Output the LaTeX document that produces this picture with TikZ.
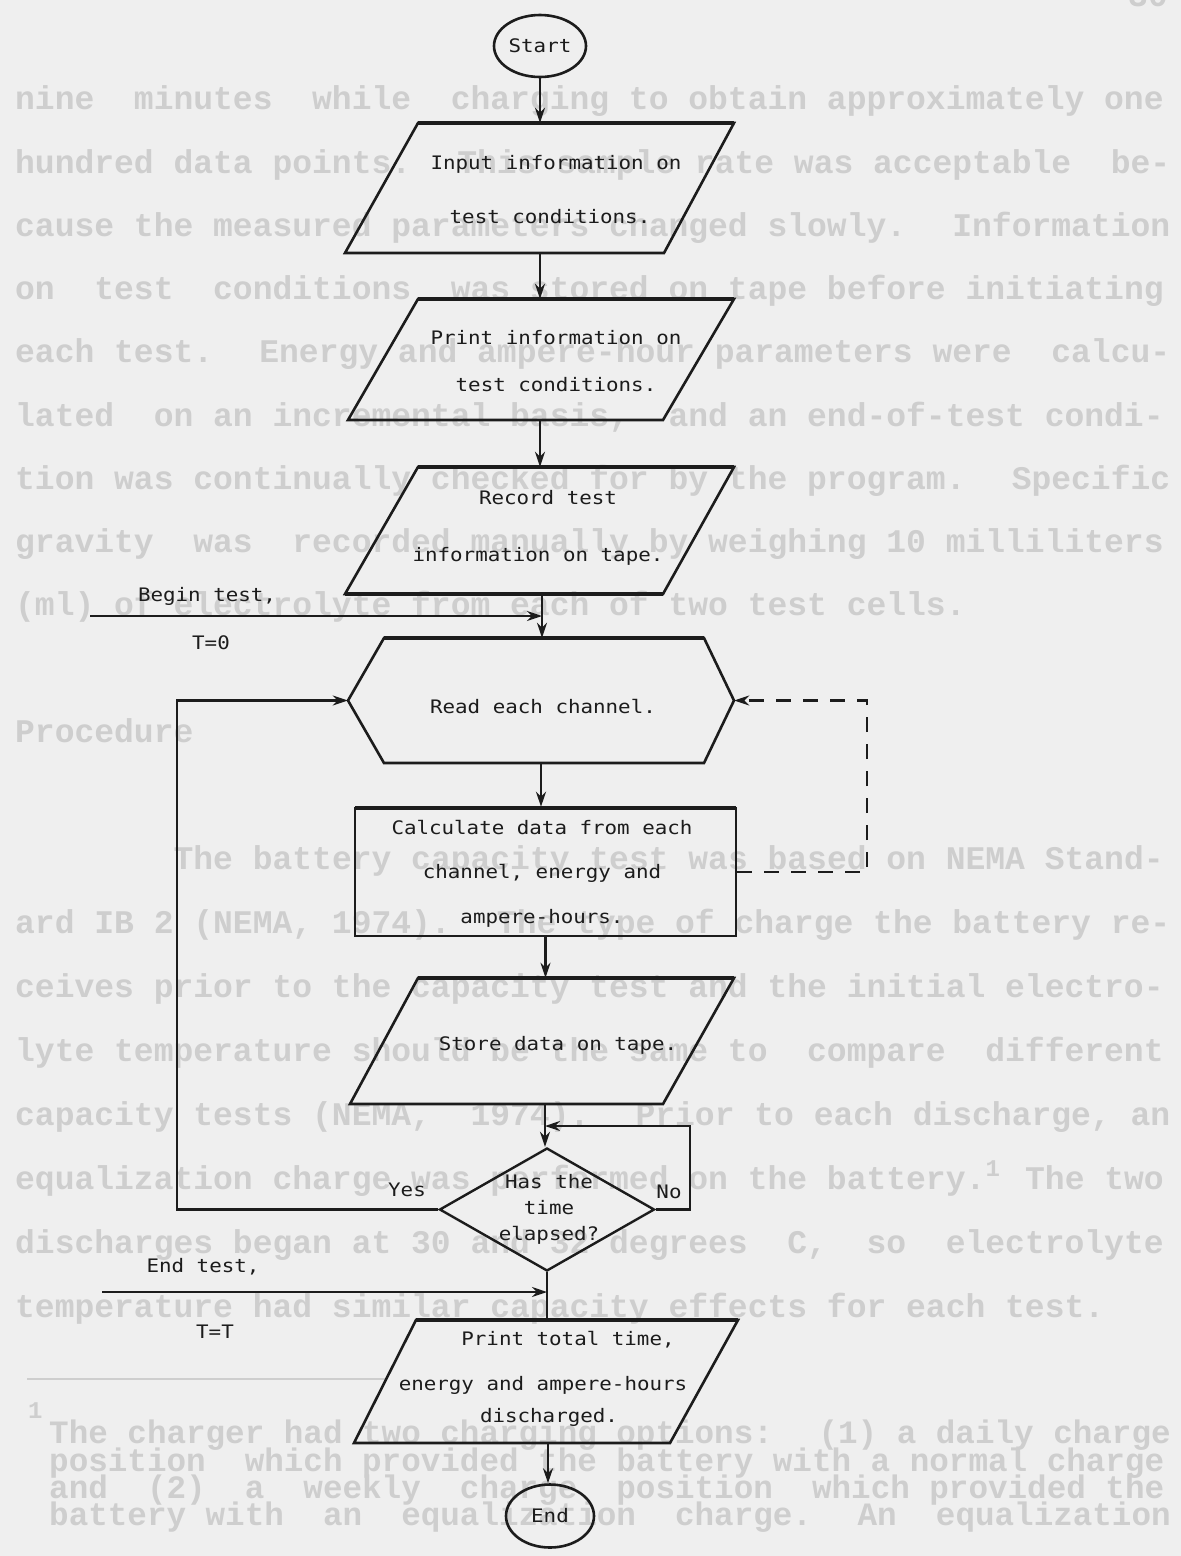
\documentclass[tikz,border=0pt]{standalone}
\usepackage{fontspec}
\usetikzlibrary{arrows.meta,shapes.geometric}
\newfontfamily\flowfont[FakeStretch=1.12]{DejaVu Sans Mono}
\newfontfamily\pagefont{Liberation Mono}
\definecolor{paper}{HTML}{EFEFEF}
\definecolor{faint}{HTML}{CECECE}
\definecolor{ink}{HTML}{1C1C1C}
\tikzset{
 bgline/.style={anchor=base west, inner sep=0, text=faint, font=\pagefont\bfseries\fontsize{33}{33}\selectfont},
 fnline/.style={anchor=base west, inner sep=0, text=faint, font=\pagefont\bfseries\fontsize{32.6}{32}\selectfont},
 lbl/.style={inner sep=0, text=ink, font=\flowfont\fontsize{18.6}{22}\selectfont},
 shapeline/.style={draw=ink, line width=2.6pt, line join=miter},
 topedge/.style={draw=ink, line width=3.6pt},
 anchorbox/.style={inner sep=0, minimum width=1pt, draw=none},
 link/.style={draw=ink, line width=2.3pt},
 arr/.style={draw=ink, line width=2.3pt, -{Stealth[length=15pt,width=10pt]}},
 dasharr/.style={arr, dash pattern=on 15pt off 12pt},
}
\begin{document}
\begin{tikzpicture}[x=1pt,y=-1pt]
\useasboundingbox (0,0) rectangle (1181,1556);
\fill[paper] (0,0) rectangle (1181,1556);
\clip (0,0) rectangle (1181,1556);

% ---- faint text of the page behind the chart
\node[bgline] (pg) at (1128,6) {30};
\node[bgline] (l1) at (15,109) {nine~ minutes~ while~ charging to obtain approximately one};
\node[bgline] (l2) at (15,173) {hundred data points.~ This sample rate was acceptable~ be-};
\node[bgline] (l3) at (15,236) {cause the measured parameters changed slowly.~ Information};
\node[bgline] (l4) at (15,299) {on~ test~ conditions~ was stored on tape before initiating};
\node[bgline] (l5) at (15,362) {each test.~ Energy and ampere-hour parameters were~ calcu-};
\node[bgline] (l6) at (15,426) {lated~ on an incremental basis,~ and an end-of-test condi-};
\node[bgline] (l7) at (15,489) {tion was continually checked for by the program.~ Specific};
\node[bgline] (l8) at (15,552) {gravity~ was~ recorded manually by weighing 10 milliliters};
\node[bgline] (l9) at (15,615) {(ml) of electrolyte from each of two test cells.};
\node[bgline] (proc) at (15,742) {Procedure};
\node[bgline] (m1) at (15,869) {~~~~~~~~The battery capacity test was based on NEMA Stand-};
\node[bgline] (m2) at (15,933) {ard IB 2 (NEMA, 1974).~ The type of charge the battery re-};
\node[bgline] (m3) at (15,997) {ceives prior to the capacity test and the initial electro-};
\node[bgline] (m4) at (15,1061) {lyte temperature should be the same to~ compare~ different};
\node[bgline] (m5) at (15,1125) {capacity tests (NEMA,~ 1974).~ Prior to each discharge, an};
\node[bgline] (m6) at (15,1189) {equalization charge was performed on the battery.\makebox[19.8pt][l]{\raisebox{13pt}{\fontsize{24}{24}\selectfont 1}} The two};
\node[bgline] (m7) at (15,1253) {discharges began at 30 and 32 degrees~ C,~ so~ electrolyte};
\node[bgline] (m8) at (15,1317) {temperature had similar capacity effects for each test.};
\draw[faint, line width=1.6pt] (27,1379) -- (387,1379);
\node[anchor=base west, inner sep=0, text=faint, font=\pagefont\bfseries\fontsize{24}{24}\selectfont] (fnmark) at (28,1418) {1};
\node[fnline] (f1) at (49,1443) {The charger had two charging options:~ (1) a daily charge};
\node[fnline] (f2) at (49,1471) {position~ which provided the battery with a normal charge};
\node[fnline] (f3) at (49,1498) {and~ (2)~ a~ weekly~ charge~ position~ which provided the};
\node[fnline] (f4) at (49,1525) {battery with~ an~ equalization~ charge.~ An~ equalization};

% ---- flowchart shapes
\node[ellipse, draw=ink, line width=2.6pt, minimum width=92pt, minimum height=62pt, lbl] (start) at (540,46) {Start};

\node[anchorbox, minimum height=130pt] (p1) at (540,188) {};
\draw[shapeline] (418,123) -- (734,123) -- (664,253) -- (345,253) -- cycle;
\draw[topedge] (418,123) -- (734,123);
\node[lbl, align=center, font=\flowfont\fontsize{18.6}{54}\selectfont] (p1t) at (556,190) {Input information on\\\hspace*{-12pt}test conditions.};

\node[anchorbox, minimum height=121pt] (p2) at (540,359.5) {};
\draw[shapeline] (418,299) -- (734,299) -- (663,420) -- (348,420) -- cycle;
\draw[topedge] (418,299) -- (734,299);
\node[lbl, align=center, font=\flowfont\fontsize{18.6}{47}\selectfont] (p2t) at (556,361.5) {Print information on\\test conditions.};

\node[anchorbox, minimum height=127pt] (p3) at (542,530.5) {};
\draw[shapeline] (418,467) -- (734,467) -- (663,594) -- (345,594) -- cycle;
\draw[topedge] (418,467) -- (734,467);
\draw[topedge] (345,594) -- (663,594);
\node[lbl, align=center, font=\flowfont\fontsize{18.6}{57}\selectfont] (p3t) at (538,528) {\hspace*{20pt}Record test\\information on tape.};

\node[anchorbox, minimum width=386pt, minimum height=125pt] (hex) at (541,700.5) {};
\draw[shapeline] (384,638) -- (704,638) -- (734,700.5) -- (704,763) -- (384,763) -- (348,700.5) -- cycle;
\draw[topedge] (384,638) -- (704,638);
\node[lbl] (hext) at (543,707) {Read each channel.};

\node[draw=ink, line width=2.6pt, minimum width=381pt, minimum height=128pt, inner sep=0] (rect) at (545.5,872) {};
\draw[topedge] (355,808) -- (736,808);
\node[lbl, align=center, font=\flowfont\fontsize{18.6}{44.5}\selectfont] (rectt) at (542,873.5) {Calculate data from each\\channel, energy and\\ampere-hours.};

\node[anchorbox, minimum height=126pt] (p4) at (545,1041) {};
\draw[shapeline] (418,978) -- (734,978) -- (663,1104) -- (350,1104) -- cycle;
\draw[topedge] (418,978) -- (734,978);
\node[lbl] (p4t) at (558,1045) {Store data on tape.};

\node[diamond, draw=ink, line width=2.4pt, minimum width=215pt, minimum height=123pt, inner sep=0] (dia) at (547,1209.5) {};
\node[lbl, align=center, font=\flowfont\fontsize{18.6}{26}\selectfont] (diat) at (549,1209) {Has the\\time\\elapsed?};

\node[anchorbox, minimum height=123pt] (p5) at (548,1381.5) {};
\draw[shapeline] (416,1320) -- (738,1320) -- (670,1443) -- (354,1443) -- cycle;
\draw[topedge] (416,1320) -- (738,1320);
\node[lbl, align=center, font=\flowfont\fontsize{18.6}{45}\selectfont] (p5t) at (543,1378.5) {\hspace*{50pt}Print total time,\\energy and ampere-hours\\[-13pt]\hspace*{12pt}discharged.};

\node[ellipse, draw=ink, line width=2.6pt, minimum width=88pt, minimum height=63pt, lbl] (stop) at (550,1516) {End};

% ---- connectors
\draw[arr] (start.south) -- (start.south |- p1.north);
\draw[arr] (p1.south) -- (p1.south |- p2.north);
\draw[arr] (p2.south) -- (p2.south |- p3.north);
\draw[arr] (p3.south) -- (p3.south |- hex.north);
\draw[arr] (hex.south) -- (hex.south |- rect.north);
\draw[arr] (rect.south) -- (rect.south |- p4.north);
\draw[arr] (p4.south) -- (p4.south |- dia.north);
\draw[link] (dia.south) -- (dia.south |- p5.north);
\draw[arr] (p5.south) -- (p5.south |- stop.north);

\coordinate (bstart) at (90,616);
\draw[arr] (bstart) -- (bstart -| p3.south);
\node[lbl] (blbl) at (207,596) {Begin test,};
\node[lbl] (t0) at (211,643) {T=0};

\coordinate (estart) at (102,1292);
\draw[arr] (estart) -- (estart -| dia.south);
\node[lbl] (elbl) at (203,1267) {End test,};
\node[lbl] (tt) at (215,1332) {T=T};

\draw[arr] (dia.west) -- ++(-261,0) |- (hex.west);
\node[lbl] (yes) at (407,1190) {Yes};

\coordinate (nojoin) at (p4.south |- 0,1126);
\draw[arr] (dia.east) -- ++(34,0) |- (nojoin);
\node[lbl] (no) at (669,1192) {No};

\draw[dasharr] (rect.east) -- ++(130,0) |- (hex.east);
\end{tikzpicture}
\end{document}
